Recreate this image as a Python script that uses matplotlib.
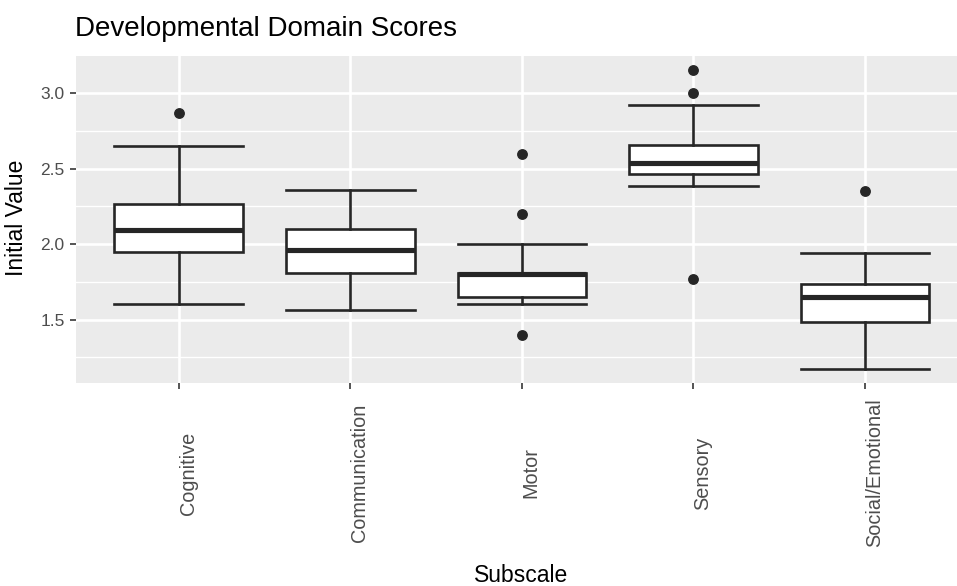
import matplotlib

matplotlib.use("Agg")
import matplotlib.pyplot as plt
from matplotlib.ticker import FixedLocator

plt.rcParams["font.family"] = ["Liberation Sans", "DejaVu Sans"]

# Five-number summaries per subscale, plus the points beyond the whiskers
categories = ["Cognitive", "Communication", "Motor", "Sensory", "Social/Emotional"]
whisker_low = [1.60, 1.563, 1.60, 2.384, 1.174]
q1 = [1.945, 1.806, 1.651, 2.464, 1.483]
medians = [2.093, 1.962, 1.80, 2.538, 1.647]
q3 = [2.265, 2.099, 1.806, 2.654, 1.737]
whisker_high = [2.647, 2.356, 2.00, 2.923, 1.940]
outliers = [[2.872], [], [2.60, 2.20, 1.40], [3.152, 3.00, 1.768], [2.351]]

y_ticks = [1.5, 2.0, 2.5, 3.0]
y_minor = [1.25, 1.75, 2.25, 2.75]

PANEL = "#EBEBEB"
INK = "#262626"
TICK_TEXT = "#4D4D4D"

W, H = 957, 586
fig = plt.figure(figsize=(W / 100, H / 100), dpi=100)

# panel runs slightly past the right edge of the canvas
left, right, top, bottom = 75.7, 968.0, 56.0, 383.0
ax = fig.add_axes([left / W, 1 - bottom / H, (right - left) / W, (bottom - top) / H])
ax.set_facecolor(PANEL)
for spine in ax.spines.values():
    spine.set_visible(False)

positions = list(range(1, len(categories) + 1))
stats = []
for i, name in enumerate(categories):
    stats.append(
        {
            "label": name,
            "whislo": whisker_low[i],
            "q1": q1[i],
            "med": medians[i],
            "q3": q3[i],
            "whishi": whisker_high[i],
            "fliers": outliers[i],
        }
    )

ax.bxp(
    stats,
    positions=positions,
    widths=0.75,
    capwidths=0.75,
    patch_artist=True,
    showfliers=True,
    boxprops=dict(facecolor="white", edgecolor=INK, linewidth=1.9),
    whiskerprops=dict(color=INK, linewidth=1.9),
    capprops=dict(color=INK, linewidth=1.9),
    medianprops=dict(color=INK, linewidth=3.7, solid_capstyle="butt"),
    flierprops=dict(
        marker="o",
        markersize=6.8,
        markerfacecolor=INK,
        markeredgecolor=INK,
        linestyle="none",
    ),
    zorder=3,
)

ax.set_xlim(0.4, 5.6)
ax.set_ylim(1.079, 3.247)

# ggplot-like grid: thick major lines, thin minor lines
ax.yaxis.set_major_locator(FixedLocator(y_ticks))
ax.yaxis.set_minor_locator(FixedLocator(y_minor))
ax.set_xticks(positions)
ax.grid(which="major", color="white", linewidth=1.9, zorder=0)
ax.grid(which="minor", axis="y", color="white", linewidth=0.95, zorder=0)
ax.set_axisbelow(True)

ax.set_yticklabels([f"{v:.1f}" for v in y_ticks])
ax.tick_params(axis="y", which="major", length=4.3, width=1.1, color=INK,
               pad=3.6, labelsize=12.5, labelcolor=TICK_TEXT)
ax.tick_params(axis="y", which="minor", length=0)
ax.tick_params(axis="x", length=4.3, width=1.1, color=INK, pad=60.5,
               labelsize=14.3, labelcolor=TICK_TEXT)
ax.set_xticklabels(categories, rotation=90, ha="left", va="center")

fig.text(75 / W, 1 - 36 / H, "Developmental Domain Scores", fontsize=20,
         ha="left", va="baseline", color="black")
fig.text(17 / W, 1 - 218 / H, "Initial Value", fontsize=16.5, rotation=90,
         ha="center", va="center", color="black")
fig.text(521.5 / W, 1 - 582 / H, "Subscale", fontsize=16.5,
         ha="center", va="baseline", color="black")

fig.savefig("out.png", dpi=100)
